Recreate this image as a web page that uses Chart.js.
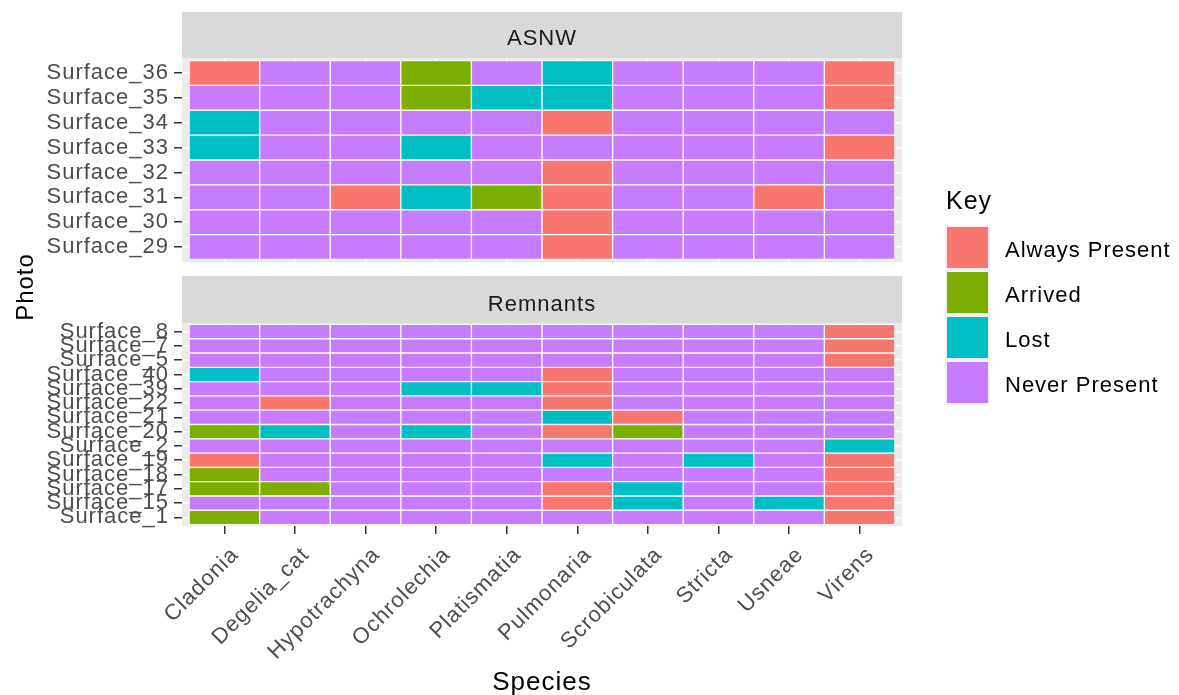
<!DOCTYPE html>
<html>
<head>
<meta charset="utf-8">
<script src="https://cdn.jsdelivr.net/npm/chart.js@4.4.0/dist/chart.umd.min.js"></script>
<style>
  html, body { margin: 0; padding: 0; background: #fff; }
  #wrap { position: relative; width: 1179px; height: 695px; }
  #wrap canvas { position: absolute; left: 0; top: 0; }
</style>
</head>
<body>
<div id="wrap">
  <canvas id="remnants" width="1179" height="695"></canvas>
  <canvas id="asnw" width="1179" height="695"></canvas>
</div>
<script>
const species = ['Cladonia', 'Degelia_cat', 'Hypotrachyna', 'Ochrolechia', 'Platismatia',
  'Pulmonaria', 'Scrobiculata', 'Stricta', 'Usneae', 'Virens'];

const keyLabels = ['Always Present', 'Arrived', 'Lost', 'Never Present'];
const keyColors = ['#F8766D', '#7CAE00', '#00BFC4', '#C77CFF'];

// rows listed top to bottom, status codes index keyLabels
const asnwRows = ['Surface_36', 'Surface_35', 'Surface_34', 'Surface_33',
  'Surface_32', 'Surface_31', 'Surface_30', 'Surface_29'];
const asnwStatus = [
  [0, 3, 3, 1, 3, 2, 3, 3, 3, 0],
  [3, 3, 3, 1, 2, 2, 3, 3, 3, 0],
  [2, 3, 3, 3, 3, 0, 3, 3, 3, 3],
  [2, 3, 3, 2, 3, 3, 3, 3, 3, 0],
  [3, 3, 3, 3, 3, 0, 3, 3, 3, 3],
  [3, 3, 0, 2, 1, 0, 3, 3, 0, 3],
  [3, 3, 3, 3, 3, 0, 3, 3, 3, 3],
  [3, 3, 3, 3, 3, 0, 3, 3, 3, 3]
];

const remRows = ['Surface_8', 'Surface_7', 'Surface_5', 'Surface_40', 'Surface_39',
  'Surface_22', 'Surface_21', 'Surface_20', 'Surface_2', 'Surface_19',
  'Surface_18', 'Surface_17', 'Surface_15', 'Surface_1'];
const remStatus = [
  [3, 3, 3, 3, 3, 3, 3, 3, 3, 0],
  [3, 3, 3, 3, 3, 3, 3, 3, 3, 0],
  [3, 3, 3, 3, 3, 3, 3, 3, 3, 0],
  [2, 3, 3, 3, 3, 0, 3, 3, 3, 3],
  [3, 3, 3, 2, 2, 0, 3, 3, 3, 3],
  [3, 0, 3, 3, 3, 0, 3, 3, 3, 3],
  [3, 3, 3, 3, 3, 2, 0, 3, 3, 3],
  [1, 2, 3, 2, 3, 0, 1, 3, 3, 3],
  [3, 3, 3, 3, 3, 3, 3, 3, 3, 2],
  [0, 3, 3, 3, 3, 2, 3, 2, 3, 0],
  [1, 3, 3, 3, 3, 3, 3, 3, 3, 0],
  [1, 1, 3, 3, 3, 0, 2, 3, 3, 0],
  [3, 3, 3, 3, 3, 0, 2, 3, 2, 0],
  [1, 3, 3, 3, 3, 3, 3, 3, 3, 0]
];

const FONT = '"Liberation Sans", Arial, sans-serif';

function makeDatasets(rows, status) {
  return species.map((sp, i) => ({
    label: sp,
    data: rows.map((r, j) => ({ y: j, x: [i - 0.5, i + 0.5] })),
    backgroundColor: rows.map((r, j) => keyColors[status[j][i]]),
    borderColor: '#FFFFFF',
    borderWidth: 1,
    borderSkipped: false,
    grouped: false,
    barPercentage: 1,
    categoryPercentage: 1
  }));
}

// grey panel background + facet strip
function facetPlugin(label, stripTop, textY) {
  return {
    id: 'facet',
    beforeLayout(chart) { chart.ctx.letterSpacing = '1px'; },
    beforeDraw(chart) {
      const { ctx, chartArea: a } = chart;
      ctx.letterSpacing = '1px';
      ctx.save();
      ctx.fillStyle = '#EBEBEB';
      ctx.fillRect(a.left, a.top, a.right - a.left, a.bottom - a.top);
      ctx.fillStyle = '#D9D9D9';
      ctx.fillRect(a.left, stripTop, a.right - a.left, a.top - stripTop);
      ctx.fillStyle = '#1A1A1A';
      ctx.font = '22px ' + FONT;
      ctx.textAlign = 'center';
      ctx.textBaseline = 'alphabetic';
      ctx.fillText(label, (a.left + a.right) / 2, textY);
      ctx.restore();
    }
  };
}

// legend and axis titles
const decoPlugin = {
  id: 'deco',
  afterDraw(chart) {
    const ctx = chart.ctx;
    ctx.save();
    ctx.letterSpacing = '1px';
    ctx.fillStyle = '#000000';
    ctx.textAlign = 'left';
    ctx.textBaseline = 'alphabetic';
    ctx.font = '25px ' + FONT;
    ctx.fillText('Key', 946, 209);
    ctx.font = '22px ' + FONT;
    keyLabels.forEach((k, i) => {
      ctx.fillStyle = '#F2F2F2';
      ctx.fillRect(945, 225 + i * 45, 45, 45);
      ctx.fillStyle = keyColors[i];
      ctx.fillRect(947, 227 + i * 45, 41, 41);
      ctx.fillStyle = '#000000';
      ctx.fillText(k, 1005, 257 + i * 45);
    });
    ctx.font = '26px ' + FONT;
    ctx.textAlign = 'center';
    ctx.fillText('Species', 542, 690);
    ctx.translate(33, 287);
    ctx.rotate(-Math.PI / 2);
    ctx.font = '24px ' + FONT;
    ctx.fillText('Photo', 0, 0);
    ctx.restore();
  }
};

function panelOptions(rows, showX, padding) {
  return {
    responsive: false,
    animation: false,
    indexAxis: 'y',
    layout: { padding },
    plugins: { legend: { display: false }, tooltip: { enabled: false } },
    scales: {
      x: {
        type: 'linear',
        offset: false,
        min: -0.6,
        max: species.length - 0.4,
        afterBuildTicks: s => { s.ticks = species.map((_, i) => ({ value: i })); },
        afterFit: s => { s.height = showX ? 169 : 0; },
        border: { display: false },
        grid: { offset: false, color: '#FFFFFF', lineWidth: 1.5, tickColor: '#333333', tickWidth: 1.5, tickLength: 8, drawTicks: showX },
        ticks: {
          display: showX,
          autoSkip: false,
          minRotation: 45,
          maxRotation: 45,
          padding: 8,
          labelOffset: 11,
          color: '#4D4D4D',
          font: { family: FONT, size: 22 },
          callback: v => species[Math.round(v)]
        }
      },
      y: {
        type: 'linear',
        offset: false,
        reverse: true,
        min: -0.6,
        max: rows.length - 0.4,
        afterBuildTicks: s => { s.ticks = rows.map((_, j) => ({ value: j })); },
        afterFit: s => { s.width = 182; },
        border: { display: false },
        grid: { offset: false, color: '#FFFFFF', lineWidth: 1.5, tickColor: '#333333', tickWidth: 1.5, tickLength: 8 },
        ticks: {
          autoSkip: false,
          padding: 5,
          color: '#4D4D4D',
          font: { family: FONT, size: 22 },
          callback: v => rows[Math.round(v)]
        }
      }
    }
  };
}

new Chart(document.getElementById('asnw'), {
  type: 'bar',
  data: { datasets: makeDatasets(asnwRows, asnwStatus) },
  options: panelOptions(asnwRows, false, { top: 58, left: 0, right: 277, bottom: 433 }),
  plugins: [facetPlugin('ASNW', 12, 45)]
});

new Chart(document.getElementById('remnants'), {
  type: 'bar',
  data: { datasets: makeDatasets(remRows, remStatus) },
  options: panelOptions(remRows, true, { top: 323, left: 0, right: 277, bottom: 0 }),
  plugins: [facetPlugin('Remnants', 276, 311), decoPlugin]
});
</script>
</body>
</html>
